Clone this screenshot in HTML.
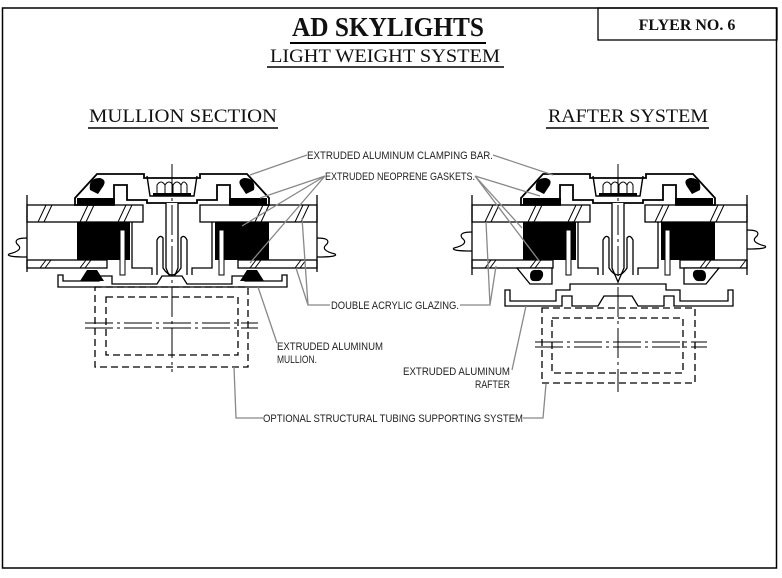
<!DOCTYPE html>
<html><head><meta charset="utf-8"><style>
html,body{margin:0;padding:0;background:#fff;width:782px;height:578px;overflow:hidden}
svg{display:block}
.t{font-family:"Liberation Sans",sans-serif;font-size:11px;fill:#222}
.s{font-family:"Liberation Serif",serif;fill:#111}
</style></head><body>
<svg width="782" height="578" viewBox="0 0 782 578" xmlns="http://www.w3.org/2000/svg">
<defs>
<g id="top">
 <path d="M-97,198 L-75,174 L-28,174 L-28,178 L28,178 L28,174 L75,174 L97,198 L97,205 L58,205 L58,185 L45,185 L45,200 L25,200 L25,203 L-25,203 L-25,200 L-45,200 L-45,185 L-58,185 L-58,205 L-97,205 Z" fill="#fff" stroke="#000" stroke-width="1.8"/>
 <path d="M-25,176 L-22,196 L22,196 L25,176" fill="none" stroke="#000" stroke-width="1.4"/>
 <rect x="-19" y="193" width="38" height="3" fill="#000"/>
 <path d="M-15,193 v-8 q4,-6 8,0 v8 M-7,193 v-8 q4,-6 8,0 v8 M1,193 v-8 q4,-6 8,0 v8 M9,193 v-8 q3,-6 6,0 v8" fill="none" stroke="#000" stroke-width="1"/>
 <path d="M-82,190 q-2,-12 10,-12 q8,2 2,10 l-4,6 z M82,190 q2,-12 -10,-12 q-8,2 -2,10 l4,6 z" fill="#000"/>
 <rect x="-95" y="198" width="38" height="7" fill="#000"/>
 <rect x="57" y="198" width="38" height="7" fill="#000"/>
 <path d="M-6,203 L-6,268 L0,282 L6,268 L6,203" fill="#fff" stroke="#000" stroke-width="1.3"/>
 <path d="M-15,275 L-15,240 q3,-6 6,-2 L-9,268 q9,14 18,0 L9,238 q3,-4 6,2 L15,275" fill="none" stroke="#000" stroke-width="1.3"/>
 <rect x="-95" y="222" width="53" height="38" fill="#000"/>
 <rect x="43" y="222" width="54" height="38" fill="#000"/>
 <rect x="-52" y="230" width="5" height="45" fill="#fff" stroke="#000" stroke-width="1"/>
 <rect x="47" y="230" width="5" height="45" fill="#fff" stroke="#000" stroke-width="1"/>
 <path d="M-40,222 L-40,268 L-20,268 L-20,275 M40,222 L40,268 L20,268 L20,275" fill="none" stroke="#000" stroke-width="1.3"/>
</g>
</defs>

<rect x="2.5" y="8" width="774" height="560" fill="none" stroke="#000" stroke-width="1.5"/>
<rect x="598" y="8" width="179" height="32" fill="none" stroke="#000" stroke-width="1.3"/>
<text x="687" y="30" class="s" font-size="16" font-weight="bold" text-anchor="middle">FLYER NO. 6</text>
<text x="388" y="36" class="s" font-size="27" font-weight="bold" text-anchor="middle" textLength="192" lengthAdjust="spacingAndGlyphs">AD SKYLIGHTS</text>
<line x1="290" y1="43" x2="486" y2="43" stroke="#000" stroke-width="2"/>
<text x="385" y="62" class="s" font-size="19" text-anchor="middle" textLength="230" lengthAdjust="spacingAndGlyphs">LIGHT WEIGHT SYSTEM</text>
<line x1="267" y1="67" x2="504" y2="67" stroke="#000" stroke-width="1.5"/>
<text x="183" y="122" class="s" font-size="19" text-anchor="middle" textLength="188" lengthAdjust="spacingAndGlyphs">MULLION SECTION</text>
<line x1="88" y1="128" x2="278" y2="128" stroke="#000" stroke-width="1.5"/>
<text x="628" y="122" class="s" font-size="19" text-anchor="middle" textLength="160" lengthAdjust="spacingAndGlyphs">RAFTER SYSTEM</text>
<line x1="546" y1="128" x2="709" y2="128" stroke="#000" stroke-width="1.5"/>

<g stroke="#000" stroke-width="1.3" fill="#fff">
 <rect x="27" y="205" width="116" height="17"/>
 <rect x="200" y="205" width="117" height="17"/>
 <rect x="27" y="260" width="80" height="8"/>
 <rect x="238" y="260" width="79" height="8"/>
</g>
<use href="#top" x="172" y="0"/>
<g stroke="#000" stroke-width="1" fill="none">
 <path d="M38,222 l8,-17 M44,222 l8,-17 M80,222 l8,-17 M86,222 l8,-17 M118,222 l8,-17 M124,222 l8,-17 M255,222 l8,-17 M261,222 l8,-17 M295,222 l8,-17 M301,222 l8,-17"/>
 <path d="M40,268 l6,-8 M45,268 l6,-8 M80,268 l6,-8 M85,268 l6,-8 M250,268 l6,-8 M255,268 l6,-8 M295,268 l6,-8 M300,268 l6,-8"/>
</g>
<path d="M27,195 L27,272 M317,195 L317,272" stroke="#000" stroke-width="1.3"/>
<path d="M27,238 q-14,0 -10,6 q8,6 -8,10 q-4,3 18,3" fill="none" stroke="#000" stroke-width="1.2"/>
<path d="M317,238 q14,0 10,6 q-8,6 8,10 q4,3 -18,3" fill="none" stroke="#000" stroke-width="1.2"/>
<path d="M58,275 L58,287 L287,287 L287,275 L282,275 L282,281 L245,281 L245,276 L232,276 L232,284 L220,284 L187,284 L182,276 L162,276 L157,284 L125,284 L112,284 L112,276 L99,276 L99,281 L63,281 L63,275 Z" fill="#fff" stroke="#000" stroke-width="1.3"/>
<path d="M80,281 L87,270 L97,270 L104,281 Z M240,281 L247,270 L257,270 L264,281 Z" fill="#000"/>
<rect x="95" y="287" width="153" height="80" fill="none" stroke="#000" stroke-width="1.3" stroke-dasharray="7,4"/>
<rect x="106" y="297" width="132" height="58" fill="none" stroke="#000" stroke-width="1.3" stroke-dasharray="7,4"/>
<path d="M85,323 L258,323 M85,328 L258,328" stroke="#000" stroke-width="1.1" stroke-dasharray="28,4,3,4"/>
<line x1="172" y1="164" x2="172" y2="372" stroke="#000" stroke-width="1" stroke-dasharray="30,4,3,4"/>

<g stroke="#000" stroke-width="1.3" fill="#fff">
 <rect x="472" y="205" width="118" height="17"/>
 <rect x="645" y="205" width="102" height="17"/>
 <rect x="472" y="260" width="81" height="8"/>
 <rect x="680" y="260" width="67" height="8"/>
</g>
<use href="#top" x="618" y="0"/>
<g stroke="#000" stroke-width="1" fill="none">
 <path d="M485,222 l8,-17 M491,222 l8,-17 M528,222 l8,-17 M534,222 l8,-17 M568,222 l8,-17 M574,222 l8,-17 M655,222 l8,-17 M661,222 l8,-17 M710,222 l8,-17 M716,222 l8,-17"/>
 <path d="M485,268 l6,-8 M490,268 l6,-8 M530,268 l6,-8 M535,268 l6,-8 M700,268 l6,-8 M705,268 l6,-8 M740,268 l6,-8"/>
</g>
<path d="M472,195 L472,275 M747,195 L747,275" stroke="#000" stroke-width="1.3"/>
<path d="M472,232 q-14,0 -10,6 q8,6 -8,10 q-4,3 18,3" fill="none" stroke="#000" stroke-width="1.2"/>
<path d="M747,230 q14,0 10,6 q-8,6 8,10 q4,3 -18,3" fill="none" stroke="#000" stroke-width="1.2"/>
<path d="M517,268 L552,268 L552,284 L530,284 Z M719,268 L684,268 L684,284 L706,284 Z" fill="#fff" stroke="#000" stroke-width="1.3"/>
<path d="M530,276 q0,-7 7,-6 q7,-1 6,6 q-2,6 -7,5 q-6,1 -6,-5 z M706,276 q0,-7 -7,-6 q-7,-1 -6,6 q2,6 7,5 q6,1 6,-5 z" fill="#000"/>
<path d="M505,290 L505,306 L562,306 L562,296 L572,296 L572,306 L598,306 L604,296 L632,296 L638,306 L664,306 L664,296 L674,296 L674,306 L733,306 L733,290 L728,290 L728,301 L680,301 L680,290 L666,290 L666,284 L570,284 L570,290 L556,290 L556,301 L510,301 L510,290 Z" fill="#fff" stroke="#000" stroke-width="1.3"/>
<rect x="542" y="308" width="153" height="75" fill="none" stroke="#000" stroke-width="1.3" stroke-dasharray="7,4"/>
<rect x="552" y="318" width="131" height="55" fill="none" stroke="#000" stroke-width="1.3" stroke-dasharray="7,4"/>
<path d="M535,342 L707,342 M535,347 L707,347" stroke="#000" stroke-width="1.1" stroke-dasharray="28,4,3,4"/>
<line x1="618" y1="164" x2="618" y2="392" stroke="#000" stroke-width="1" stroke-dasharray="30,4,3,4"/>

<g stroke="#888" stroke-width="1.3" fill="none">
 <path d="M307,155 L250,175 M493,155 L553,175"/>
 <path d="M325,176 L260,198 M325,176 L242,226 M325,176 L250,263"/>
 <path d="M475,176 L540,196 M475,176 L522,228 M475,176 L540,262"/>
 <path d="M330,305 L308,305 L302,218 M308,305 L296,268"/>
 <path d="M460,305 L490,305 L486,222 M490,305 L496,266"/>
 <path d="M277,343 L258,287"/>
 <path d="M512,370 L526,306"/>
 <path d="M263,418 L236,418 L234,367 M523,418 L543,418 L546,384"/>
</g>
<text class="t" x="307" y="159" textLength="186" lengthAdjust="spacingAndGlyphs">EXTRUDED ALUMINUM CLAMPING BAR.</text>
<text class="t" x="325" y="180" textLength="150" lengthAdjust="spacingAndGlyphs">EXTRUDED NEOPRENE GASKETS.</text>
<text class="t" x="331" y="309" textLength="128" lengthAdjust="spacingAndGlyphs">DOUBLE ACRYLIC GLAZING.</text>
<text class="t" x="277" y="350" textLength="106" lengthAdjust="spacingAndGlyphs">EXTRUDED ALUMINUM</text>
<text class="t" x="277" y="363" textLength="40" lengthAdjust="spacingAndGlyphs">MULLION.</text>
<text class="t" x="403" y="375" textLength="107" lengthAdjust="spacingAndGlyphs">EXTRUDED ALUMINUM</text>
<text class="t" x="475" y="388" textLength="35" lengthAdjust="spacingAndGlyphs">RAFTER</text>
<text class="t" x="263" y="422" textLength="260" lengthAdjust="spacingAndGlyphs">OPTIONAL STRUCTURAL TUBING SUPPORTING SYSTEM</text>
</svg>
</body></html>
